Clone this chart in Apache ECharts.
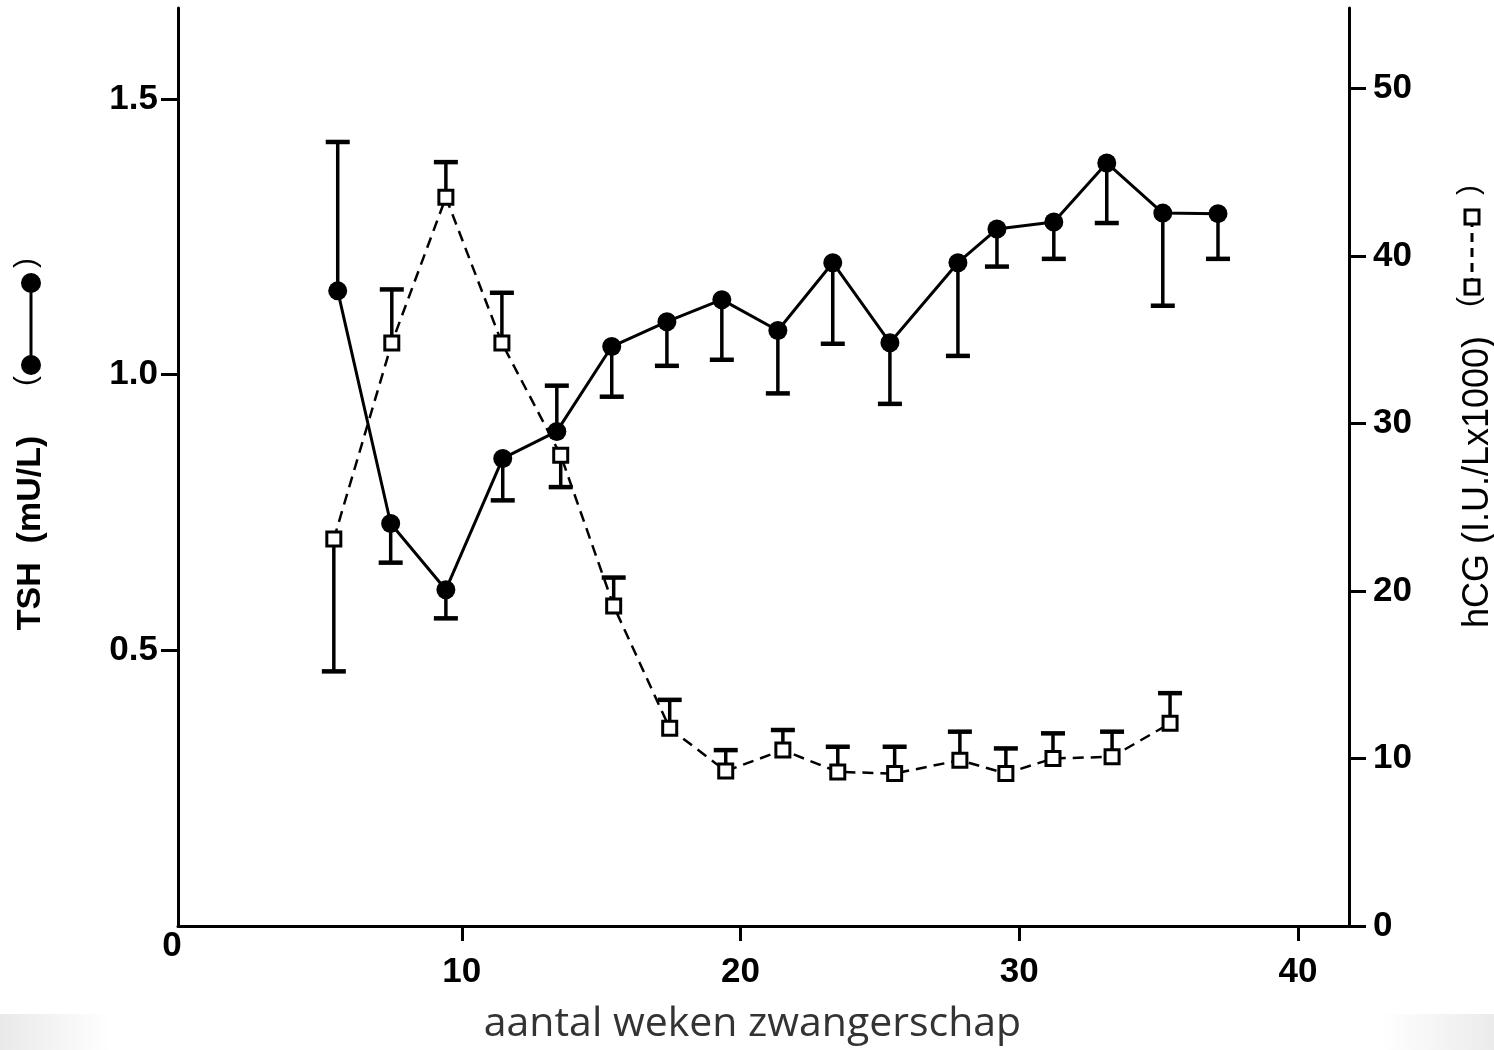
<!DOCTYPE html>
<html>
<head>
<meta charset="utf-8">
<script src="https://cdn.jsdelivr.net/npm/echarts@6/dist/echarts.min.js"></script>
<style>
html, body { margin: 0; padding: 0; background: #fff; }
#chart_main { width: 1494px; height: 1050px; }
</style>
</head>
<body>
<div id="chart_main"></div>
<script type="text/javascript">
// TSH (mU/L), left axis: week, mean, end of error bar
var tsh_week  = [5.55, 7.45, 9.43, 11.47, 13.41, 15.38, 17.36, 19.33, 21.34, 23.31, 25.36, 27.80, 29.20, 31.24, 33.14, 35.15, 37.13];
var tsh_value = [1.152, 0.730, 0.610, 0.848, 0.897, 1.051, 1.096, 1.136, 1.080, 1.203, 1.058, 1.203, 1.264, 1.277, 1.384, 1.293, 1.292];
var tsh_err   = [1.422, 0.659, 0.558, 0.772, 0.980, 0.960, 1.016, 1.027, 0.966, 1.056, 0.947, 1.034, 1.196, 1.210, 1.275, 1.125, 1.210];

// hCG (I.U./L x1000), right axis
var hcg_week  = [5.41, 7.49, 9.43, 11.44, 13.55, 15.45, 17.46, 19.47, 21.52, 23.49, 25.53, 27.87, 29.52, 31.21, 33.33, 35.41];
var hcg_value = [23.1, 34.8, 43.5, 34.8, 28.1, 19.1, 11.8, 9.25, 10.5, 9.2, 9.1, 9.9, 9.1, 10.0, 10.1, 12.1];
var hcg_err   = [15.2, 38.0, 45.6, 37.8, 26.2, 20.8, 13.5, 10.5, 11.7, 10.7, 10.7, 11.6, 10.6, 11.5, 11.6, 13.9];

var x_ticks = [10, 20, 30, 40];
var tsh_ticks = [0.5, 1.0, 1.5];
var hcg_ticks = [0, 10, 20, 30, 40, 50];

var tickFont = 'Liberation Sans, Arial, sans-serif';

function pairs(xs, ys) {
	var out = [];
	for (var i = 0; i < xs.length; i++) out.push([xs[i], ys[i]]);
	return out;
}
function triples(xs, ys, es) {
	var out = [];
	for (var i = 0; i < xs.length; i++) out.push([xs[i], ys[i], es[i]]);
	return out;
}
// one-sided error bar: stem from the mean to the bound, cap at the bound
function errorBar(params, api) {
	var p = api.coord([api.value(0), api.value(1)]);
	var q = api.coord([api.value(0), api.value(2)]);
	return {
		type: 'group',
		children: [
			{type: 'line', shape: {x1: p[0], y1: p[1], x2: q[0], y2: q[1]}, style: {stroke: '#000', lineWidth: 3.5}},
			{type: 'line', shape: {x1: q[0] - 12, y1: q[1], x2: q[0] + 12, y2: q[1]}, style: {stroke: '#000', lineWidth: 4.5}}
		]
	};
}

var myChart = echarts.init(document.getElementById('chart_main'));
var option = {
	animation: false,
	backgroundColor: '#fff',
	grid: {left: 178, right: 145, top: 8, bottom: 123},
	xAxis: {
		type: 'value', min: -0.18, max: 41.83,
		name: 'aantal weken zwangerschap',
		nameLocation: 'middle', nameGap: 78,
		nameTextStyle: {fontFamily: 'Open Sans', fontSize: 41, color: '#333', padding: [0, 22, 0, 0]},
		axisLine: {onZero: false, lineStyle: {color: '#000', width: 3}},
		axisTick: {show: true, length: 15, lineStyle: {color: '#000', width: 3}, customValues: x_ticks},
		axisLabel: {customValues: x_ticks, margin: 29, color: '#000', fontFamily: tickFont, fontWeight: 'bold', fontSize: 35},
		splitLine: {show: false}
	},
	yAxis: [
		{
			type: 'value', min: 0, max: 1.665, position: 'left',
			axisLine: {show: true, onZero: false, lineStyle: {color: '#000', width: 3}},
			axisTick: {show: true, length: 17, lineStyle: {color: '#000', width: 3}, customValues: tsh_ticks},
			axisLabel: {customValues: tsh_ticks, margin: 20, color: '#000', fontFamily: tickFont, fontWeight: 'bold', fontSize: 35,
				formatter: function (v) { return v.toFixed(1); }},
			splitLine: {show: false}
		},
		{
			type: 'value', min: 0, max: 54.8, position: 'right',
			axisLine: {show: true, onZero: false, lineStyle: {color: '#000', width: 3}},
			axisTick: {show: true, length: 17, lineStyle: {color: '#000', width: 3}, customValues: hcg_ticks},
			axisLabel: {customValues: hcg_ticks, margin: 24, color: '#000', fontFamily: tickFont, fontWeight: 'bold', fontSize: 35},
			splitLine: {show: false}
		}
	],
	graphic: [
		{type: 'rect', z: -10, shape: {x: 0, y: 1014, width: 110, height: 36},
			style: {fill: new echarts.graphic.LinearGradient(0, 0, 1, 0, [{offset: 0, color: '#e9e9e9'}, {offset: 1, color: '#ffffff'}])}},
		{type: 'rect', z: -10, shape: {x: 1380, y: 1014, width: 114, height: 36},
			style: {fill: new echarts.graphic.LinearGradient(0, 0, 1, 0, [{offset: 0, color: '#ffffff'}, {offset: 1, color: '#ebebeb'}])}},
		{type: 'text', x: 172, y: 946, style: {text: '0', font: 'bold 35px Liberation Sans', fill: '#000', textAlign: 'center', textVerticalAlign: 'middle'}},
		{
			type: 'group', x: 31, y: 633, rotation: Math.PI / 2,
			children: [
				{type: 'text', x: 100, y: 0, style: {text: 'TSH  (mU/L)', font: 'bold 34px Liberation Sans', fill: '#000', textAlign: 'center', textVerticalAlign: 'middle'}},
				{type: 'text', x: 252, y: -4, style: {text: '(', font: '30px Liberation Sans', fill: '#000', textAlign: 'center', textVerticalAlign: 'middle'}},
				{type: 'line', shape: {x1: 268, y1: 0, x2: 350, y2: 0}, style: {stroke: '#000', lineWidth: 3}},
				{type: 'circle', shape: {cx: 268, cy: 0, r: 10}, style: {fill: '#000'}},
				{type: 'circle', shape: {cx: 350, cy: 0, r: 10}, style: {fill: '#000'}},
				{type: 'text', x: 370, y: -4, style: {text: ')', font: '30px Liberation Sans', fill: '#000', textAlign: 'center', textVerticalAlign: 'middle'}}
			]
		},
		{
			type: 'group', x: 1478, y: 635, rotation: Math.PI / 2,
			children: [
				{type: 'text', x: 153, y: 0, style: {text: 'hCG (I.U./Lx1000)', font: '36px Liberation Sans', fill: '#000', textAlign: 'center', textVerticalAlign: 'middle'}},
				{type: 'text', x: 333, y: -8, style: {text: '(', font: '30px Liberation Sans', fill: '#000', textAlign: 'center', textVerticalAlign: 'middle'}},
				{type: 'line', shape: {x1: 348, y1: -6, x2: 418, y2: -6}, style: {stroke: '#000', lineWidth: 3, lineDash: [9, 6]}},
				{type: 'rect', shape: {x: 341, y: -13, width: 14, height: 14}, style: {fill: '#fff', stroke: '#000', lineWidth: 3}},
				{type: 'rect', shape: {x: 411, y: -13, width: 14, height: 14}, style: {fill: '#fff', stroke: '#000', lineWidth: 3}},
				{type: 'text', x: 445, y: -8, style: {text: ')', font: '30px Liberation Sans', fill: '#000', textAlign: 'center', textVerticalAlign: 'middle'}}
			]
		}
	],
	series: [
		{
			name: 'TSH err', type: 'custom', yAxisIndex: 0,
			renderItem: errorBar, encode: {x: 0, y: [1, 2]},
			data: triples(tsh_week, tsh_value, tsh_err), z: 1
		},
		{
			name: 'hCG err', type: 'custom', yAxisIndex: 1,
			renderItem: errorBar, encode: {x: 0, y: [1, 2]},
			data: triples(hcg_week, hcg_value, hcg_err), z: 1
		},
		{
			name: 'TSH', type: 'line', yAxisIndex: 0,
			data: pairs(tsh_week, tsh_value),
			symbol: 'circle', symbolSize: 19,
			itemStyle: {color: '#000'},
			lineStyle: {color: '#000', width: 3},
			z: 3
		},
		{
			name: 'hCG', type: 'line', yAxisIndex: 1,
			data: pairs(hcg_week, hcg_value),
			symbol: 'rect', symbolSize: 14,
			itemStyle: {color: '#fff', borderColor: '#000', borderWidth: 3},
			lineStyle: {color: '#000', width: 2.5, type: [11, 7]},
			z: 2
		}
	]
};
myChart.setOption(option);
</script>
</body>
</html>
